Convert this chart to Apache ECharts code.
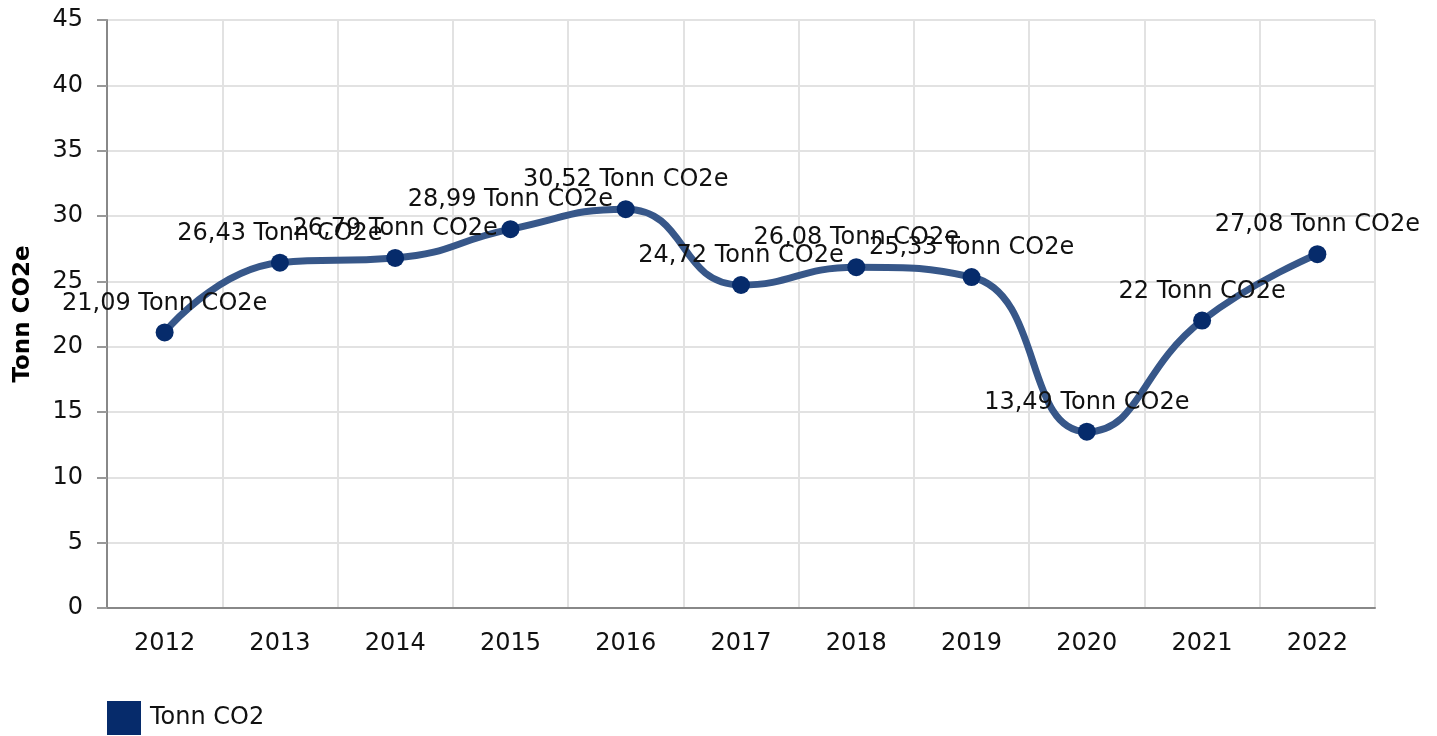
<!DOCTYPE html>
<html>
<head>
<meta charset="utf-8">
<script src="https://cdn.jsdelivr.net/npm/echarts@6/dist/echarts.min.js"></script>
<style>
  html, body { margin: 0; padding: 0; background: #fff; }
  #chart { width: 1437px; height: 736px; }
</style>
</head>
<body>
<div id="chart"></div>
<script>
// data
const years = ['2012', '2013', '2014', '2015', '2016', '2017', '2018', '2019', '2020', '2021', '2022']
const tonnCo2 = [21.09, 26.43, 26.79, 28.99, 30.52, 24.72, 26.08, 25.33, 13.49, 22, 27.08]
const seriesName = 'Tonn CO2'
const unit = 'Tonn CO2e'

const font = 'DejaVu Sans, Verdana, sans-serif'
const chart = echarts.init(document.getElementById('chart'))

chart.setOption({
  animation: false,
  textStyle: { fontFamily: font },
  grid: {
    left: 107,
    right: 62,
    top: 20,
    bottom: 128
  },
  legend: {
    data: [seriesName],
    left: 107,
    bottom: 1,
    padding: 0,
    itemWidth: 34,
    itemHeight: 34,
    itemGap: 10,
    icon: 'rect',
    textStyle: { fontSize: 24, color: '#111', fontFamily: font, padding: [0, 0, 0, 4] }
  },
  xAxis: {
    type: 'category',
    data: years,
    boundaryGap: true,
    axisLine: { lineStyle: { color: '#888', width: 2 } },
    axisTick: { alignWithLabel: true, length: 10, lineStyle: { color: '#999', width: 2 } },
    axisLabel: { fontSize: 24, color: '#111', margin: 24, fontFamily: font },
    splitLine: { show: true, lineStyle: { color: '#e2e2e2', width: 2 } }
  },
  yAxis: {
    type: 'value',
    min: 0,
    max: 45,
    interval: 5,
    name: unit,
    nameLocation: 'middle',
    nameGap: 72,
    nameTextStyle: { fontSize: 23, fontWeight: 'bold', color: '#000', fontFamily: font },
    axisLine: { show: true, lineStyle: { color: '#888', width: 2 } },
    axisTick: { show: true, length: 10, lineStyle: { color: '#999', width: 2 } },
    axisLabel: { fontSize: 24, color: '#111', margin: 24, fontFamily: font },
    splitLine: { lineStyle: { color: '#e2e2e2', width: 2 } }
  },
  series: [
    {
      name: seriesName,
      type: 'line',
      data: tonnCo2,
      smooth: 0.5,
      symbol: 'circle',
      symbolSize: 18,
      itemStyle: { color: '#062b6b' },
      lineStyle: { color: '#375789', width: 7 },
      label: {
        show: true,
        position: 'top',
        distance: 8,
        fontSize: 24,
        color: '#111',
        fontFamily: font,
        formatter(p) {
          return String(p.value).replace('.', ',') + ' ' + unit
        }
      }
    }
  ]
})
</script>
</body>
</html>
